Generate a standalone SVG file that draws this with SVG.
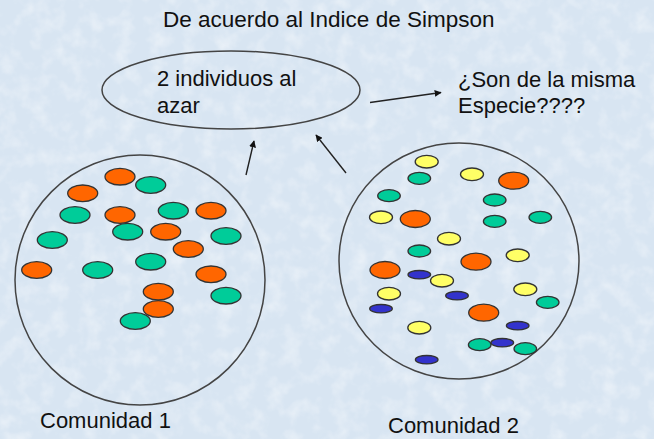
<svg xmlns="http://www.w3.org/2000/svg" width="654" height="439" viewBox="0 0 654 439">
<defs>
<style>
text{font-family:"Liberation Sans",Arial,sans-serif;font-size:22px;fill:#111}
.ring{fill:none;stroke:#444;stroke-width:1.5}
.d{stroke:#333;stroke-width:1.3}
.o{fill:#ff6600}
.t{fill:#00cc99}
.y{fill:#ffff66}
.b{fill:#3333cc}
.c{fill:none;stroke:#222;stroke-width:1.4}
</style>
<marker id="ah" viewBox="0 0 10 10" refX="9" refY="5" markerWidth="7" markerHeight="7" markerUnits="userSpaceOnUse" orient="auto"><path d="M0,0 L10,5 L0,10 z" fill="#111"/></marker>
<filter id="tex" x="0" y="0" width="100%" height="100%">
<feTurbulence type="fractalNoise" baseFrequency="0.06" numOctaves="3" seed="4" result="n"/>
<feColorMatrix in="n" type="matrix" values="0 0 0 0 1  0 0 0 0 1  0 0 0 0 1  0 0 0 1.6 -0.7"/>
</filter>
</defs>
<rect width="654" height="439" fill="#d8e5f2"/>
<rect width="654" height="439" filter="url(#tex)" opacity="0.55"/>
<g id="title"><text x="163" y="27" style="font-size:22.5px">De acuerdo al Indice de Simpson</text></g>
<g id="sample">
<ellipse class="ring" cx="231" cy="90" rx="129" ry="39"/>
<text x="157" y="86">2 individuos al</text>
<text x="157" y="113">azar</text>
</g>
<g id="question">
<text x="458" y="87">¿Son de la misma</text>
<text x="458" y="113">Especie????</text>
</g>
<g id="comunidad1">
<ellipse class="ring" cx="140" cy="280" rx="125" ry="125"/>
<g class="d">
<ellipse class="o" cx="120" cy="176.7" rx="15" ry="8.3"/>
<ellipse class="t" cx="150.7" cy="185" rx="15" ry="8.3"/>
<ellipse class="o" cx="82.7" cy="193.3" rx="15" ry="8.3"/>
<ellipse class="t" cx="75" cy="215" rx="15" ry="8.3"/>
<ellipse class="o" cx="120" cy="215" rx="15" ry="8.3"/>
<ellipse class="t" cx="173.3" cy="210.7" rx="15" ry="8.3"/>
<ellipse class="o" cx="211" cy="210.7" rx="15" ry="8.3"/>
<ellipse class="t" cx="127.7" cy="231.7" rx="15" ry="8.3"/>
<ellipse class="o" cx="165.7" cy="231.7" rx="15" ry="8.3"/>
<ellipse class="t" cx="52.3" cy="240" rx="15" ry="8.3"/>
<ellipse class="t" cx="226" cy="236" rx="15" ry="8.3"/>
<ellipse class="o" cx="188.3" cy="249" rx="15" ry="8.3"/>
<ellipse class="t" cx="150.7" cy="261.7" rx="15" ry="8.3"/>
<ellipse class="o" cx="36.7" cy="270" rx="15" ry="8.3"/>
<ellipse class="t" cx="97.7" cy="270" rx="15" ry="8.3"/>
<ellipse class="o" cx="211" cy="274.3" rx="15" ry="8.3"/>
<ellipse class="o" cx="158.3" cy="291.7" rx="15" ry="8.3"/>
<ellipse class="t" cx="226" cy="295.7" rx="15" ry="8.3"/>
<ellipse class="o" cx="158.3" cy="309" rx="15" ry="8.3"/>
<ellipse class="t" cx="135.3" cy="321" rx="15" ry="8.3"/>
</g>
<text x="40" y="428">Comunidad 1</text>
</g>
<g id="comunidad2">
<ellipse class="ring" cx="459" cy="261" rx="120" ry="118"/>
<g class="d">
<ellipse class="y" cx="426.7" cy="161.7" rx="11.5" ry="6.3"/>
<ellipse class="t" cx="419.3" cy="178.3" rx="11.3" ry="6"/>
<ellipse class="y" cx="472" cy="174.3" rx="11.5" ry="6.3"/>
<ellipse class="o" cx="513.7" cy="180.7" rx="15" ry="8.5"/>
<ellipse class="t" cx="389" cy="195.7" rx="11.3" ry="6"/>
<ellipse class="t" cx="494.7" cy="200" rx="11.3" ry="6"/>
<ellipse class="y" cx="381" cy="217.3" rx="11.5" ry="6.3"/>
<ellipse class="o" cx="415.3" cy="219" rx="15" ry="8.5"/>
<ellipse class="t" cx="494.7" cy="221.3" rx="11.3" ry="6"/>
<ellipse class="t" cx="540.3" cy="217.3" rx="11.3" ry="6"/>
<ellipse class="y" cx="449" cy="238.7" rx="11.5" ry="6.3"/>
<ellipse class="t" cx="419.3" cy="251" rx="11.3" ry="6"/>
<ellipse class="o" cx="476" cy="261.7" rx="15" ry="8.5"/>
<ellipse class="y" cx="517.7" cy="255.3" rx="11.5" ry="6.3"/>
<ellipse class="o" cx="385" cy="270" rx="15" ry="8.5"/>
<ellipse class="b" cx="419.3" cy="274.7" rx="11.3" ry="4.2"/>
<ellipse class="y" cx="442" cy="280.7" rx="11.5" ry="6.3"/>
<ellipse class="y" cx="389" cy="293.7" rx="11.5" ry="6.3"/>
<ellipse class="b" cx="457" cy="295.7" rx="11.3" ry="4.2"/>
<ellipse class="y" cx="525.3" cy="289.3" rx="11.5" ry="6.3"/>
<ellipse class="t" cx="547.7" cy="302.3" rx="11.3" ry="6"/>
<ellipse class="b" cx="381" cy="308.7" rx="11.3" ry="4.2"/>
<ellipse class="o" cx="483.7" cy="312.7" rx="15" ry="8.5"/>
<ellipse class="y" cx="419.3" cy="327.7" rx="11.5" ry="6.3"/>
<ellipse class="b" cx="517.7" cy="325.7" rx="11.3" ry="4.2"/>
<ellipse class="t" cx="479.7" cy="344.7" rx="11.3" ry="6"/>
<ellipse class="b" cx="502.3" cy="342.7" rx="11.3" ry="4.2"/>
<ellipse class="t" cx="525.3" cy="348.7" rx="11.3" ry="6"/>
<ellipse class="b" cx="426.7" cy="359.7" rx="11.3" ry="4.2"/>
</g>
<text x="388" y="433">Comunidad 2</text>
</g>
<g id="connectors">
<line class="c" x1="246" y1="175" x2="254" y2="141" marker-end="url(#ah)"/>
<line class="c" x1="346" y1="173" x2="316" y2="135" marker-end="url(#ah)"/>
<line class="c" x1="370" y1="102.5" x2="441" y2="92.5" marker-end="url(#ah)"/>
</g>
</svg>
